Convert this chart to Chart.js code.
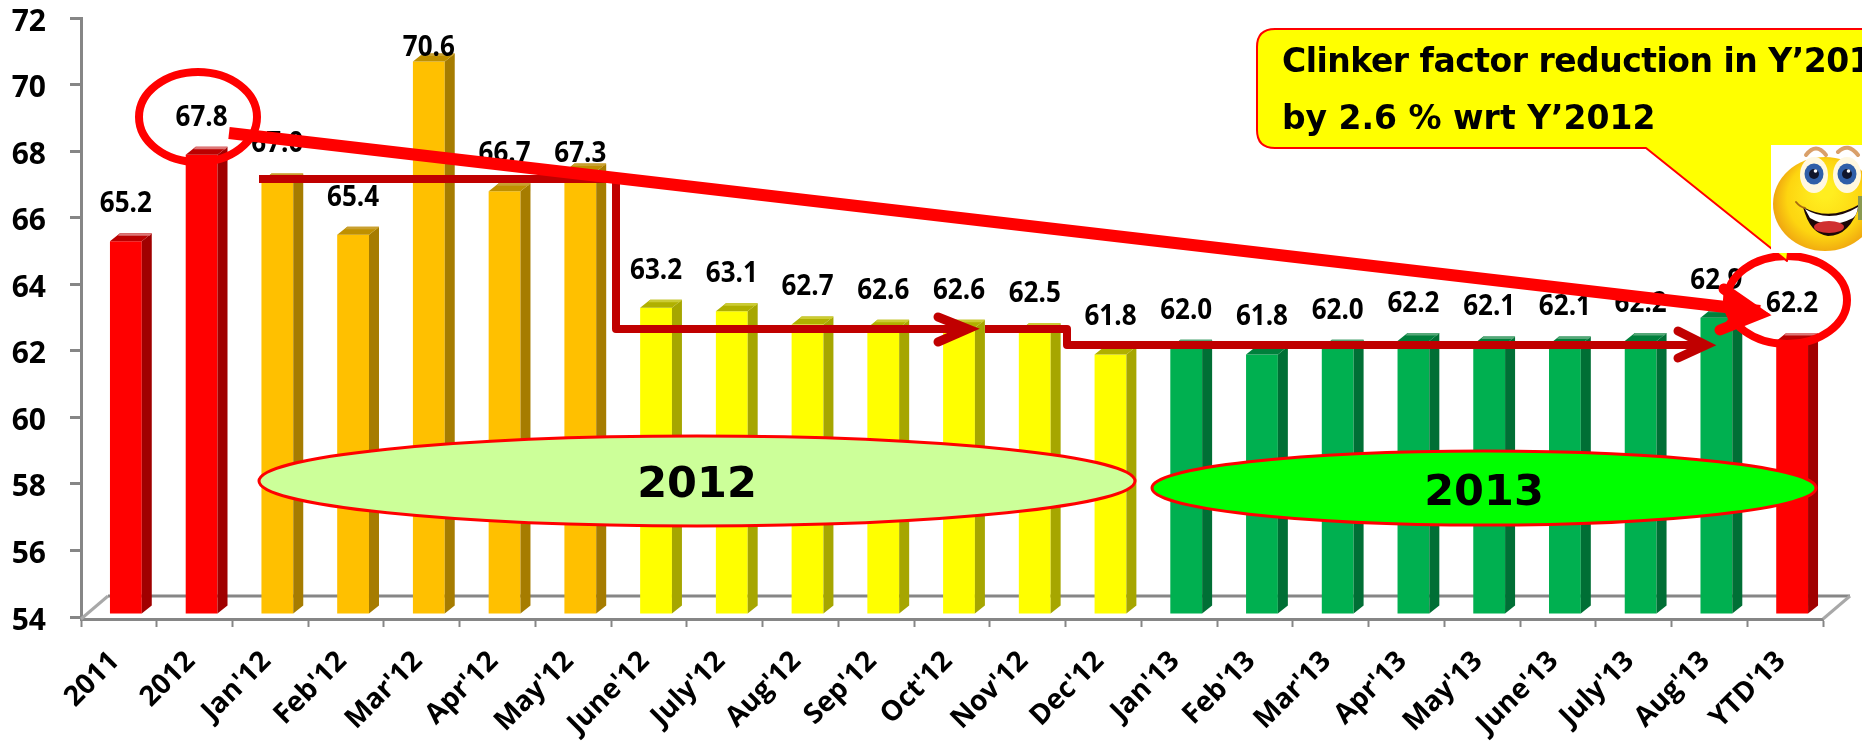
<!DOCTYPE html>
<html><head><meta charset="utf-8">
<style>html,body{margin:0;padding:0;background:#fff;overflow:hidden}canvas{display:block}</style>
<script src="https://cdn.jsdelivr.net/npm/chart.js@4"></script>
</head><body>
<div style="width:1862px;height:744px"><canvas id="c" width="1862" height="744"></canvas></div>
<script>
const categories = ["2011","2012","Jan'12","Feb'12","Mar'12","Apr'12","May'12","June'12","July'12","Aug'12","Sep'12","Oct'12","Nov'12","Dec'12","Jan'13","Feb'13","Mar'13","Apr'13","May'13","June'13","July'13","Aug'13","YTD'13"];
const clinkerFactor = [65.2,67.8,67.0,65.4,70.6,66.7,67.3,63.2,63.1,62.7,62.6,62.6,62.5,61.8,62.0,61.8,62.0,62.2,62.1,62.1,62.2,62.9,62.2];
const colourGroup = ["year","year","h1","h1","h1","h1","h1","h2","h2","h2","h2","h2","h2","h2","y13","y13","y13","y13","y13","y13","y13","y13","year"];
const yTickValues = [54,56,58,60,62,64,66,68,70,72];

const palette = {
  year:{front:'#ff0000',side:'#a00000',top:'#bb0000',back:'#dd7777'},
  h1:  {front:'#ffc000',side:'#a67c00',top:'#bf9000',back:'#c9a030'},
  h2:  {front:'#ffff00',side:'#a6a600',top:'#b0b000',back:'#cccc33'},
  y13: {front:'#00b050',side:'#006f35',top:'#00803c',back:'#55a878'}
};
const AXIS='#868686', SHIFT_X=7, SHIFT_Y=-3, DEPTH_X=10, DEPTH_Y=8;
const LIFT_DEFAULT=37, LIFT_EXCEPT={4:14,6:17};

function poly(ctx,pts,fill){ctx.beginPath();pts.forEach((p,i)=>i?ctx.lineTo(p[0],p[1]):ctx.moveTo(p[0],p[1]));ctx.closePath();ctx.fillStyle=fill;ctx.fill();}

function chevron(ctx,a,tip,b,color,w){
  ctx.save();ctx.strokeStyle=color;ctx.lineWidth=w;ctx.lineCap='round';ctx.lineJoin='miter';
  ctx.beginPath();ctx.moveTo(a[0],a[1]);ctx.lineTo(tip[0],tip[1]);ctx.lineTo(b[0],b[1]);ctx.stroke();
  ctx.restore();
}

const extrude = {
  id:'extrude',
  beforeDatasetsDraw(chart){
    const ctx=chart.ctx;
    ctx.save();ctx.strokeStyle=AXIS;ctx.lineWidth=3;
    ctx.beginPath();ctx.moveTo(108,596);ctx.lineTo(1850,596);ctx.stroke();
    ctx.strokeStyle='#a8a8a8';ctx.lineWidth=3;
    ctx.beginPath();ctx.moveTo(81,619);ctx.lineTo(108,596);ctx.stroke();
    ctx.beginPath();ctx.moveTo(1823,619);ctx.lineTo(1850,596);ctx.stroke();
    ctx.restore();
    ctx.save();ctx.translate(SHIFT_X,SHIFT_Y);
  },
  afterDatasetsDraw(chart){
    const ctx=chart.ctx, meta=chart.getDatasetMeta(0);
    meta.data.forEach((el,i)=>{
      const p=palette[colourGroup[i]];
      const hw=el.width/2,x0=el.x-hw,x1=el.x+hw,t=el.y,b=el.base;
      poly(ctx,[[x1,t],[x1+DEPTH_X,t-DEPTH_Y],[x1+DEPTH_X,b-DEPTH_Y],[x1,b]],p.side);
      poly(ctx,[[x0,t],[x1,t],[x1+DEPTH_X,t-DEPTH_Y],[x0+DEPTH_X,t-DEPTH_Y]],p.top);
      poly(ctx,[[x0+DEPTH_X-2,t-DEPTH_Y+2.5],[x1+DEPTH_X-2,t-DEPTH_Y+2.5],[x1+DEPTH_X,t-DEPTH_Y],[x0+DEPTH_X,t-DEPTH_Y]],p.back);
    });
    ctx.restore();
    ctx.save();
    ctx.fillStyle='#000';ctx.font='bold 28px "Open Sans"';ctx.textAlign='center';ctx.textBaseline='middle';
    meta.data.forEach((el,i)=>{
      const lift=LIFT_EXCEPT[i]??LIFT_DEFAULT;
      ctx.save();ctx.translate(el.x+SHIFT_X,el.y+SHIFT_Y-lift);ctx.scale(0.93,1);
      ctx.fillText(clinkerFactor[i].toFixed(1),0,0);
      ctx.restore();
    });
    ctx.restore();
  }
};

function ellipse(ctx,cx,cy,rx,ry,fill,stroke,w){
  ctx.beginPath();ctx.ellipse(cx,cy,rx,ry,0,0,Math.PI*2);
  if(fill){ctx.fillStyle=fill;ctx.fill();}
  ctx.strokeStyle=stroke;ctx.lineWidth=w;ctx.stroke();
}

function smiley(ctx){
  ctx.save();
  ctx.fillStyle='#fff';ctx.fillRect(1771,145,91,108);
  ctx.beginPath();ctx.rect(1771,145,91,108);ctx.clip();
  ctx.strokeStyle='#d9a06a';ctx.lineWidth=4;ctx.lineCap='round';
  ctx.beginPath();ctx.moveTo(1806,155);ctx.quadraticCurveTo(1816,142,1826,155);ctx.stroke();
  ctx.beginPath();ctx.moveTo(1838,152);ctx.quadraticCurveTo(1848,142,1858,155);ctx.stroke();
  const g=ctx.createRadialGradient(1825,190,8,1825,203,56);
  g.addColorStop(0,'#ffee20');g.addColorStop(.62,'#fdd510');g.addColorStop(.9,'#f0a810');g.addColorStop(1,'#d8a850');
  ctx.beginPath();ctx.ellipse(1825,204,52,47,0,0,Math.PI*2);ctx.fillStyle=g;ctx.fill();
  [[1814,175],[1847,175]].forEach(e=>{
    ctx.beginPath();ctx.ellipse(e[0],e[1],14,18,0,0,Math.PI*2);ctx.fillStyle='#fff8e0';ctx.fill();
    ctx.beginPath();ctx.ellipse(e[0],e[1]-1,9.5,10.5,0,0,Math.PI*2);ctx.fillStyle='#2f5fa8';ctx.fill();
    ctx.beginPath();ctx.arc(e[0],e[1]-1,5,0,Math.PI*2);ctx.fillStyle='#10162c';ctx.fill();
    ctx.beginPath();ctx.arc(e[0]+1.5,e[1]-4,1.8,0,Math.PI*2);ctx.fillStyle='#fff';ctx.fill();
  });
  ctx.beginPath();ctx.moveTo(1803,207);ctx.quadraticCurveTo(1830,222,1860,204);
  ctx.quadraticCurveTo(1850,236,1828,236);ctx.quadraticCurveTo(1810,234,1803,207);ctx.closePath();
  ctx.fillStyle='#1c0808';ctx.fill();
  ctx.beginPath();ctx.moveTo(1805,209);ctx.quadraticCurveTo(1830,224,1858,207);ctx.quadraticCurveTo(1857,215,1853,218);ctx.quadraticCurveTo(1830,230,1810,218);ctx.closePath();
  ctx.fillStyle='#fff';ctx.fill();
  ctx.beginPath();ctx.ellipse(1829,227,15,6,0,0,Math.PI*2);ctx.fillStyle='#d03030';ctx.fill();
  ctx.strokeStyle='#a86a10';ctx.lineWidth=2;
  ctx.beginPath();ctx.moveTo(1796,202);ctx.quadraticCurveTo(1800,207,1805,208);ctx.stroke();
  ctx.fillStyle='#8a9a50';ctx.fillRect(1858,196,4,24);
  ctx.restore();
}

const overlays = {
  id:'overlays',
  afterDraw(chart){
    const ctx=chart.ctx;
    ctx.save();
    ellipse(ctx,697,481,438,45,'#ccff99','#ff0000',3);
    ellipse(ctx,1484,488,332,37,'#00ff00','#ff0000',3);
    ctx.fillStyle='#000';ctx.font='bold 43px "DejaVu Sans"';ctx.textAlign='center';ctx.textBaseline='alphabetic';
    ctx.fillText('2012',697,497);
    ctx.fillText('2013',1484,505);
    ctx.strokeStyle='#c00000';ctx.lineWidth=8;ctx.lineJoin='round';ctx.lineCap='butt';
    ctx.beginPath();ctx.moveTo(259,179);ctx.lineTo(616,179);ctx.lineTo(616,329);ctx.lineTo(968,329);ctx.stroke();
    ctx.beginPath();ctx.moveTo(985,329);ctx.lineTo(1067,329);ctx.lineTo(1067,345);ctx.lineTo(1704,345);ctx.stroke();
    chevron(ctx,[938,317],[968,329],[938,342],'#c00000',9);
    chevron(ctx,[1678,331],[1706,345],[1678,358],'#c00000',9);
    ellipse(ctx,198,117,59,45,null,'#ff0000',8);
    ellipse(ctx,1787,300,60,44,null,'#ff0000',8);
    ctx.strokeStyle='#ff0000';ctx.lineWidth=12;ctx.lineCap='butt';
    ctx.beginPath();ctx.moveTo(229,133);ctx.lineTo(1760,311);ctx.stroke();
    chevron(ctx,[1724,289],[1760,314],[1720,330],'#ff0000',11);
    poly(ctx,[[1724,289],[1770,314],[1720,330],[1735,310]],'#ff0000');
    ctx.beginPath();
    ctx.moveTo(1275,29);ctx.lineTo(1900,29);ctx.lineTo(1900,148);ctx.lineTo(1800,148);ctx.lineTo(1787,261);ctx.lineTo(1646,148);ctx.lineTo(1275,148);
    ctx.quadraticCurveTo(1257,148,1257,130);ctx.lineTo(1257,47);ctx.quadraticCurveTo(1257,29,1275,29);ctx.closePath();
    ctx.fillStyle='#ffff00';ctx.fill();ctx.strokeStyle='#ff0000';ctx.lineWidth=2;ctx.stroke();
    ctx.fillStyle='#000';ctx.font='bold 33px "DejaVu Sans"';ctx.textAlign='left';
    ctx.letterSpacing='-0.5px';
    ctx.fillText('Clinker factor reduction in Y’2013',1282,72);
    ctx.letterSpacing='0px';
    ctx.fillText('by 2.6 % wrt Y’2012',1282,129);
    smiley(ctx);
    ctx.restore();
  }
};

new Chart(document.getElementById('c'),{
  type:'bar',
  data:{labels:categories,datasets:[{data:clinkerFactor,base:54,backgroundColor:colourGroup.map(g=>palette[g].front),borderWidth:0,barPercentage:0.42,categoryPercentage:1}]},
  plugins:[extrude,overlays],
  options:{
    responsive:false,animation:false,
    layout:{padding:{top:18,right:39,left:0,bottom:0}},
    plugins:{legend:{display:false},tooltip:{enabled:false},title:{display:false}},
    scales:{
      x:{offset:true,
        grid:{offset:true,drawOnChartArea:false,drawTicks:true,tickLength:8,tickColor:AXIS,tickWidth:2},
        border:{color:AXIS,width:3},
        afterFit(s){s.height=125;s.paddingLeft=0;s.paddingRight=0;},
        ticks:{autoSkip:false,minRotation:45,maxRotation:45,padding:18,labelOffset:-4,color:'#000',font:{family:'"Open Sans"',weight:'bold',size:28}}},
      y:{min:53.94,max:72,
        beforeUpdate(s){
          if(s._labelsNudged)return;
          s._labelsNudged=true;
          const orig=s._computeLabelItems;
          s._computeLabelItems=function(area){
            const items=orig.call(this,area);
            items.forEach(it=>{it.options.translation[1]+=4;});
            return items;
          };
        },
        afterBuildTicks(s){s.ticks=yTickValues.map(v=>({value:v}));},
        afterFit(s){s.width=81;s.paddingTop=0;s.paddingBottom=0;},
        grid:{drawOnChartArea:false,tickLength:11,tickColor:AXIS,tickWidth:3},
        border:{color:AXIS,width:3},
        ticks:{padding:24,color:'#000',font:{family:'"Open Sans"',weight:'bold',size:30}}}
    }
  }
});
</script>
</body></html>
